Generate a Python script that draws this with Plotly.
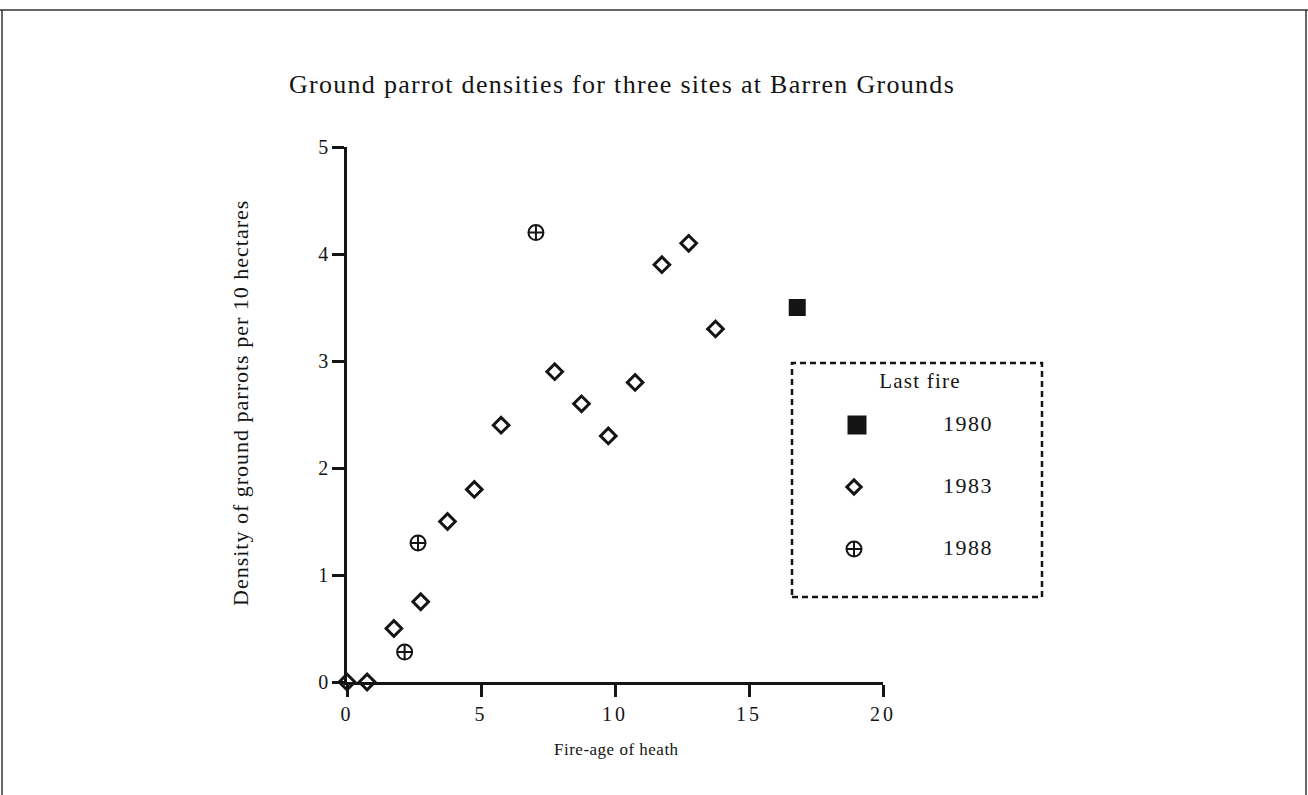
import plotly.graph_objects as go

# Data
x_1980 = [16.8]
y_1980 = [3.5]

x_1983 = [0.0, 0.75, 1.75, 2.75, 3.75, 4.75, 5.75, 7.75, 8.75, 9.75, 10.75, 11.75, 12.75, 13.75]
y_1983 = [0.0, 0.0, 0.5, 0.75, 1.5, 1.8, 2.4, 2.9, 2.6, 2.3, 2.8, 3.9, 4.1, 3.3]

x_1988 = [2.15, 2.65, 7.05]
y_1988 = [0.28, 1.3, 4.2]

x_ticks = [0, 5, 10, 15, 20]
y_ticks = [0, 1, 2, 3, 4, 5]

title_text = "Ground parrot densities for three sites at Barren Grounds"
x_title = "Fire-age of heath"
y_title = "Density of ground parrots per 10 hectares"
legend_title = "Last fire"
legend_years = ["1980", "1983", "1988"]
legend_rows = [62, 124, 186]

FONT = "Liberation Serif, Times New Roman, serif"
INK = "#141414"


def spaced(s, px):
    return f'<span style="letter-spacing:{px}px">{s}</span>'


fig = go.Figure()

fig.add_trace(go.Scatter(x=x_1980, y=y_1980, mode="markers", cliponaxis=False,
                         marker=dict(symbol="square", size=17, color=INK, line=dict(width=0)),
                         showlegend=False))
fig.add_trace(go.Scatter(x=x_1983, y=y_1983, mode="markers", cliponaxis=False,
                         marker=dict(symbol="diamond-open", size=12, color=INK, line=dict(width=3, color=INK)),
                         showlegend=False))
fig.add_trace(go.Scatter(x=x_1988, y=y_1988, mode="markers", cliponaxis=False,
                         marker=dict(symbol="circle-cross-open", size=15, color=INK, line=dict(width=2, color=INK)),
                         showlegend=False))

# Legend drawn as an inset panel
fig.add_trace(go.Scatter(x=[65], y=[legend_rows[0]], xaxis="x2", yaxis="y2", mode="markers",
                         marker=dict(symbol="square", size=19, color=INK), showlegend=False))
fig.add_trace(go.Scatter(x=[62], y=[legend_rows[1]], xaxis="x2", yaxis="y2", mode="markers",
                         marker=dict(symbol="diamond-open", size=11, color=INK, line=dict(width=3, color=INK)),
                         showlegend=False))
fig.add_trace(go.Scatter(x=[62], y=[legend_rows[2]], xaxis="x2", yaxis="y2", mode="markers",
                         marker=dict(symbol="circle-cross-open", size=15, color=INK, line=dict(width=2, color=INK)),
                         showlegend=False))
fig.add_trace(go.Scatter(x=[176] * 3, y=legend_rows, xaxis="x2", yaxis="y2", mode="text",
                         text=[spaced(t, 1.5) for t in legend_years],
                         textfont=dict(family=FONT, size=22, color=INK),
                         textposition="middle center", showlegend=False))
fig.add_trace(go.Scatter(x=[128], y=[20], xaxis="x2", yaxis="y2", mode="text",
                         text=[spaced(legend_title, 1.2)], textfont=dict(family=FONT, size=21, color=INK),
                         textposition="middle center", showlegend=False))

W, H = 1308, 795
L, R, T, B = 347, 258, 147, 113
pw = W - L - R
ph = H - T - B


def px(X):
    return (X - L) / pw


def py(Y):
    return (H - B - Y) / ph


frame = dict(color="#333333", width=1.5)
shapes = [
    dict(type="line", xref="paper", yref="paper", x0=px(0), x1=px(1308), y0=py(10), y1=py(10), line=frame),
    dict(type="line", xref="paper", yref="paper", x0=px(2), x1=px(2), y0=py(10), y1=py(795), line=frame),
    dict(type="line", xref="paper", yref="paper", x0=px(1306), x1=px(1306), y0=py(10), y1=py(795), line=frame),
    dict(type="rect", xref="x2 domain", yref="y2 domain", x0=0, x1=1, y0=0, y1=1,
         line=dict(color=INK, width=2.5, dash="6px,4px")),
]

annotations = [
    dict(text=spaced(y_title, 1.0), xref="paper", yref="paper",
         x=px(240), y=py(403), textangle=-90, showarrow=False, xanchor="center", yanchor="middle",
         font=dict(family=FONT, size=22, color=INK)),
    dict(text=spaced(x_title, 0.5), xref="paper", yref="paper",
         x=px(616), y=py(749), showarrow=False, xanchor="center", yanchor="middle",
         font=dict(family=FONT, size=17, color=INK)),
]

tickfont = dict(family=FONT, size=20, color=INK)

fig.update_layout(
    width=W, height=H,
    margin=dict(l=L, r=R, t=T, b=B, autoexpand=False),
    paper_bgcolor="white", plot_bgcolor="white",
    title=dict(text=spaced(title_text, 1.3),
               x=622 / W, y=1 - 84 / H, xanchor="center", yanchor="middle",
               font=dict(family=FONT, size=26, color=INK)),
    xaxis=dict(domain=[0, 536 / pw], range=[0, 20], tickvals=x_ticks,
               ticktext=[spaced(str(v), 3) for v in x_ticks],
               showgrid=False, zeroline=False,
               showline=True, linecolor=INK, linewidth=2.5, ticks="outside", ticklen=12, tickwidth=2.5,
               tickcolor=INK, tickfont=tickfont, fixedrange=True),
    yaxis=dict(domain=[0, 1], range=[0, 5], tickvals=y_ticks,
               ticktext=[str(v) for v in y_ticks],
               showgrid=False, zeroline=False,
               showline=True, linecolor=INK, linewidth=2.5, ticks="outside", ticklen=12, tickwidth=2.5,
               tickcolor=INK, tickfont=tickfont, fixedrange=True),
    xaxis2=dict(domain=[px(792), px(1042)], range=[0, 250], anchor="y2", visible=False, fixedrange=True),
    yaxis2=dict(domain=[py(597), py(363)], range=[234, 0], anchor="x2", visible=False, fixedrange=True),
    shapes=shapes,
    annotations=annotations,
    showlegend=False,
)

fig.write_html("out.html", config={"displayModeBar": False},
               post_script="document.body.style.margin='0';document.body.style.overflow='hidden';")
